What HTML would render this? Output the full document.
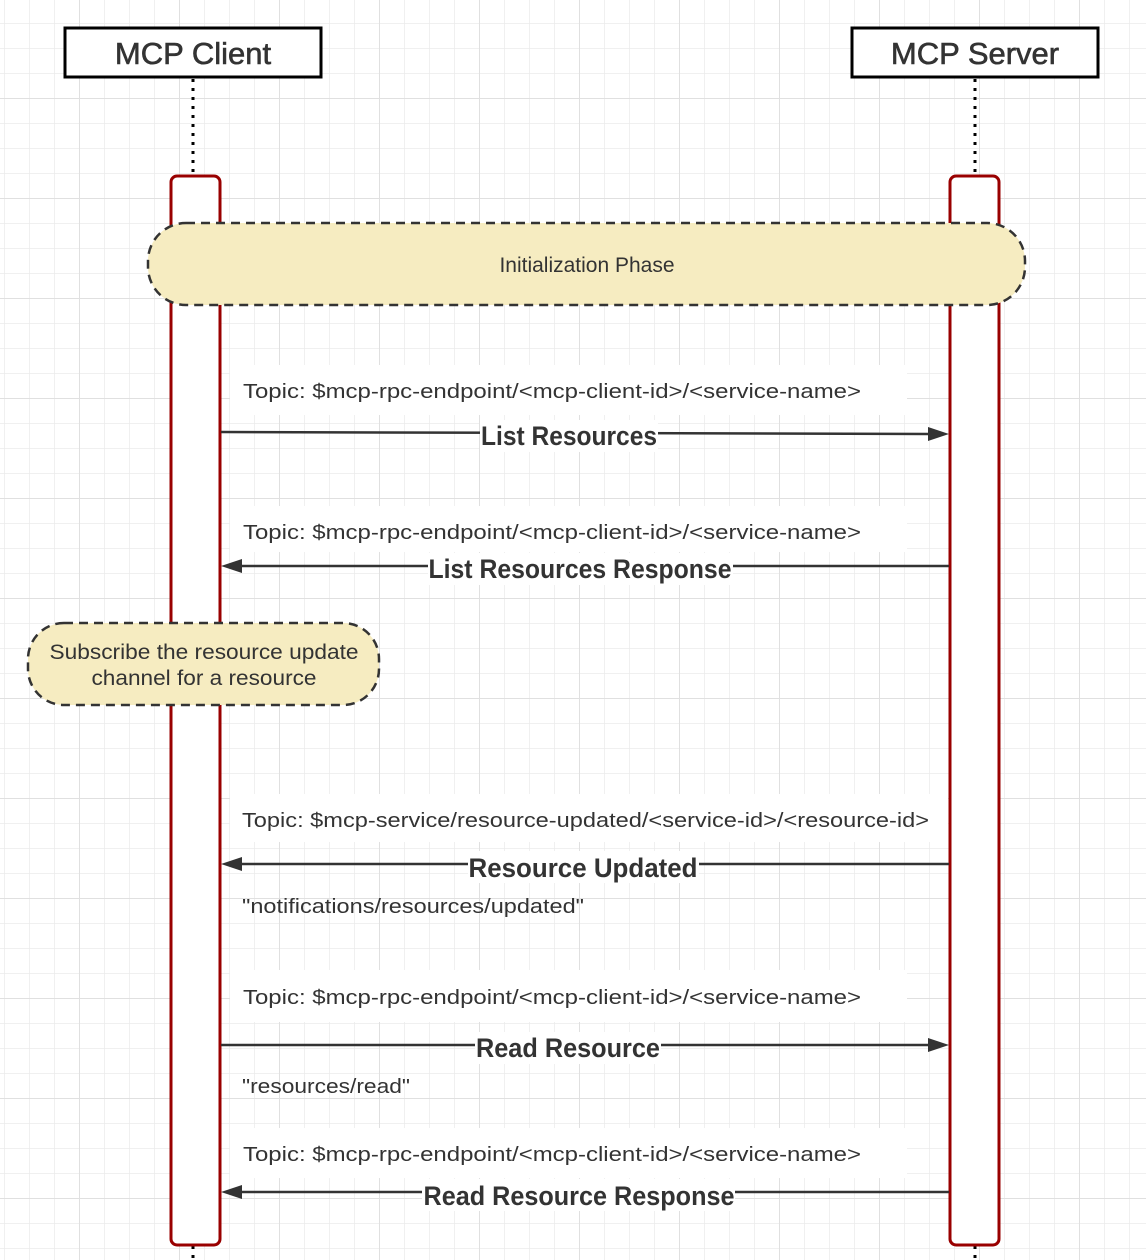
<!DOCTYPE html>
<html><head><meta charset="utf-8"><style>html,body{margin:0;padding:0;background:#fff}svg{display:block}</style></head>
<body>
<svg width="1146" height="1260" viewBox="0 0 1146 1260" xmlns="http://www.w3.org/2000/svg" font-family="'Liberation Sans', sans-serif">
<defs>
<pattern id="minor" x="4" y="23" width="25" height="25" patternUnits="userSpaceOnUse">
<path d="M0 0H25M0 0V25" stroke="#ebebeb" stroke-width="1.5" fill="none"/>
</pattern>
<pattern id="major" x="79" y="98" width="100" height="100" patternUnits="userSpaceOnUse">
<path d="M0 0H100M0 0V100" stroke="#e0e0e0" stroke-width="2" fill="none"/>
</pattern>
</defs>
<rect width="1146" height="1260" fill="url(#minor)"/>
<rect width="1146" height="1260" fill="url(#major)"/>

<rect x="65" y="28" width="256" height="49" fill="#fff" stroke="#000" stroke-width="3"/>
<text x="193" y="64" font-size="31" text-anchor="middle" fill="#333" stroke="#333" stroke-width="0.6">MCP Client</text>
<rect x="852" y="28" width="246" height="49" fill="#fff" stroke="#000" stroke-width="3"/>
<text x="975" y="64" font-size="31" text-anchor="middle" fill="#333" stroke="#333" stroke-width="0.6">MCP Server</text>

<line x1="193" y1="79" x2="193" y2="176" stroke="#000" stroke-width="3" stroke-dasharray="3,6"/>
<line x1="975" y1="79" x2="975" y2="176" stroke="#000" stroke-width="3" stroke-dasharray="3,6"/>
<line x1="193" y1="1246" x2="193" y2="1260" stroke="#000" stroke-width="3" stroke-dasharray="3,6"/>
<line x1="975" y1="1246" x2="975" y2="1260" stroke="#000" stroke-width="3" stroke-dasharray="3,6"/>

<rect x="171" y="176" width="49" height="1069" rx="6" fill="#fff" stroke="#990000" stroke-width="3"/>
<rect x="950" y="176" width="49" height="1069" rx="6" fill="#fff" stroke="#990000" stroke-width="3"/>

<rect x="148" y="223" width="877" height="82" rx="38" fill="#f6ecc1" stroke="#333" stroke-width="2.5" stroke-dasharray="9,6"/>
<text x="587" y="272" font-size="21" text-anchor="middle" fill="#333">Initialization Phase</text>

<g fill="#333">
<rect x="230" y="365" width="677" height="50" fill="#fff"/>
<rect x="230" y="506" width="677" height="46" fill="#fff"/>
<rect x="230" y="794" width="718" height="48" fill="#fff"/>
<rect x="230" y="970" width="677" height="52" fill="#fff"/>
<rect x="230" y="1128" width="677" height="50" fill="#fff"/>

<text x="243" y="398" font-size="20" textLength="618" lengthAdjust="spacingAndGlyphs">Topic: $mcp-rpc-endpoint/&lt;mcp-client-id&gt;/&lt;service-name&gt;</text>
<text x="243" y="539" font-size="20" textLength="618" lengthAdjust="spacingAndGlyphs">Topic: $mcp-rpc-endpoint/&lt;mcp-client-id&gt;/&lt;service-name&gt;</text>
<text x="242" y="827" font-size="20" textLength="687" lengthAdjust="spacingAndGlyphs">Topic: $mcp-service/resource-updated/&lt;service-id&gt;/&lt;resource-id&gt;</text>
<text x="243" y="1004" font-size="20" textLength="618" lengthAdjust="spacingAndGlyphs">Topic: $mcp-rpc-endpoint/&lt;mcp-client-id&gt;/&lt;service-name&gt;</text>
<text x="243" y="1161" font-size="20" textLength="618" lengthAdjust="spacingAndGlyphs">Topic: $mcp-rpc-endpoint/&lt;mcp-client-id&gt;/&lt;service-name&gt;</text>
<text x="242" y="913" font-size="20" textLength="342" lengthAdjust="spacingAndGlyphs">"notifications/resources/updated"</text>
<text x="242" y="1093" font-size="20" textLength="168" lengthAdjust="spacingAndGlyphs">"resources/read"</text>
</g>

<g stroke="#333" stroke-width="2.5">
<line x1="221" y1="432" x2="930" y2="434"/>
<line x1="240" y1="566" x2="949" y2="566"/>
<line x1="240" y1="864" x2="949" y2="864"/>
<line x1="221" y1="1045" x2="930" y2="1045"/>
<line x1="240" y1="1192" x2="949" y2="1192"/>
</g>
<g fill="#333">
<polygon points="949,434 928,427 928,441"/>
<polygon points="221,566 242,559 242,573"/>
<polygon points="221,864 242,857 242,871"/>
<polygon points="949,1045 928,1038 928,1052"/>
<polygon points="221,1192 242,1185 242,1199"/>
</g>

<g font-size="27" font-weight="bold" text-anchor="middle" fill="#333">
<rect x="480" y="420" width="178" height="32" fill="#fff"/>
<text x="569" y="445" textLength="176" lengthAdjust="spacingAndGlyphs">List Resources</text>
<rect x="428" y="553" width="305" height="32" fill="#fff"/>
<text x="580" y="578" textLength="303" lengthAdjust="spacingAndGlyphs">List Resources Response</text>
<rect x="468" y="851" width="231" height="32" fill="#fff"/>
<text x="583" y="877" textLength="229" lengthAdjust="spacingAndGlyphs">Resource Updated</text>
<rect x="475" y="1032" width="186" height="32" fill="#fff"/>
<text x="568" y="1057" textLength="184" lengthAdjust="spacingAndGlyphs">Read Resource</text>
<rect x="422" y="1179" width="313" height="32" fill="#fff"/>
<text x="579" y="1205" textLength="311" lengthAdjust="spacingAndGlyphs">Read Resource Response</text>
</g>

<rect x="28" y="623" width="351" height="82" rx="36" fill="#f6ecc1" stroke="#333" stroke-width="2.5" stroke-dasharray="9,6"/>
<text x="204" y="659" font-size="21" text-anchor="middle" fill="#333" textLength="309" lengthAdjust="spacingAndGlyphs">Subscribe the resource update</text>
<text x="204" y="685" font-size="21" text-anchor="middle" fill="#333" textLength="225" lengthAdjust="spacingAndGlyphs">channel for a resource</text>
</svg>
</body></html>
